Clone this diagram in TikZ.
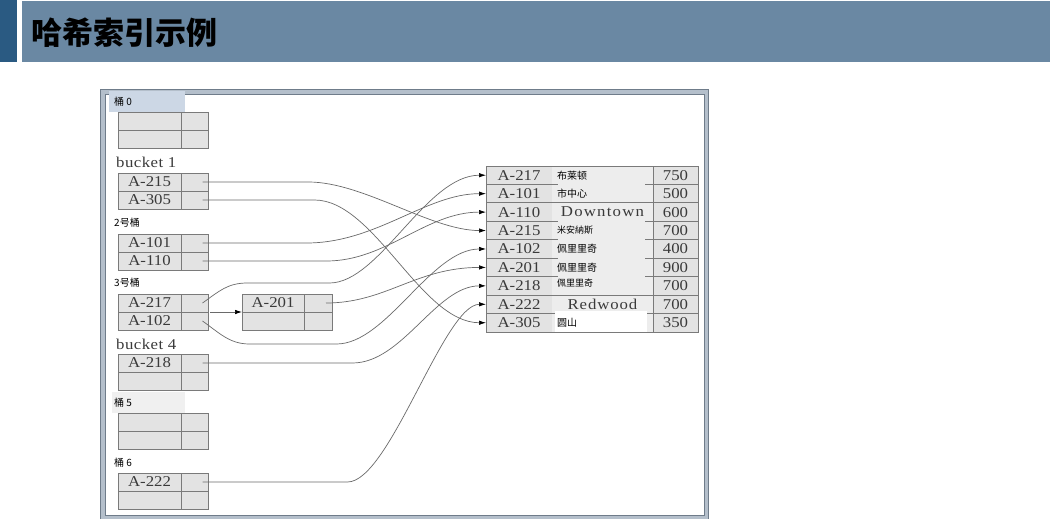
\documentclass[tikz,border=0pt]{standalone}
\usepackage{fontspec}
\setmainfont{Liberation Serif}
\newfontfamily\cjk{Noto Sans CJK SC}
\newfontfamily\tser[FakeStretch=1.12]{Liberation Serif}
\usetikzlibrary{arrows.meta,calc}
\definecolor{hdrdark}{HTML}{2A5A82}
\definecolor{hdrbar}{HTML}{6A88A3}
\definecolor{frmfill}{HTML}{B4BFCB}
\definecolor{frmline}{HTML}{6F7C8A}
\definecolor{cellfill}{HTML}{E3E3E3}
\definecolor{midfill}{HTML}{EDEDED}
\definecolor{cellline}{HTML}{7A7A7A}
\definecolor{linkc}{HTML}{6A6A6A}
\definecolor{txtc}{HTML}{3A3A3A}
\definecolor{lblblue}{HTML}{CCD7E5}
\definecolor{lblgrey}{HTML}{F0F0F0}
\newcommand\bucketbox[4]{%
  \node[keycell] (#1ka) at (118,#2) {#3};
  \node[ptrcell] (#1pa) at (181,#2) {};
  \node[keycell] (#1kb) at (118,{#2+18}) {#4};
  \node[ptrcell] (#1pb) at (181,{#2+18}) {};
}
\newcommand\tablerow[4]{% name, y, key, number
  \node[tkey] (#1k) at (486,#2) {#3};
  \node[tmid] (#1m) at (552,#2) {};
  \node[tnum] (#1n) at (653,#2) {#4};
  \draw[cellline,line width=0.8pt] (#1m.north west) -- ++(6,0) (#1m.north east) -- ++(-8,0);
}
\begin{document}
\begin{tikzpicture}[x=1pt,y=-1pt,
  cellbox/.style={draw=cellline,fill=cellfill,line width=0.8pt,inner sep=0pt,outer sep=0pt,
    anchor=north west,minimum height=18pt,text=txtc,font=\tser\fontsize{15}{15}\selectfont},
  keycell/.style={cellbox,minimum width=63pt},
  ptrcell/.style={cellbox,minimum width=27pt},
  tkey/.style={cellbox,minimum width=66pt,minimum height=18.44pt},
  tmid/.style={cellbox,draw=none,fill=midfill,minimum width=101pt,minimum height=18.44pt},
  tnum/.style={cellbox,minimum width=45pt,minimum height=18.44pt},
  cjklbl/.style={anchor=west,inner sep=0pt,text=black,font=\cjk\fontsize{10}{10}\selectfont},
  enlbl/.style={anchor=base west,inner sep=0pt,text=txtc,font=\tser\fontsize{15}{15}\selectfont\addfontfeature{LetterSpace=3}},
  midcjk/.style={anchor=west,inner sep=0pt,xshift=5pt,text=black,font=\cjk\fontsize{10}{10}\selectfont},
  link/.style={draw=linkc,line width=0.7pt,-{Latex[length=7pt,width=4.5pt,black]}},
]
\useasboundingbox (0,0) rectangle (1050,519);
% header
\fill[hdrdark] (0,0) rectangle (17,62);
\fill[hdrbar] (22,1) rectangle (1050,62);
\node[anchor=west,inner sep=0pt,font=\cjk\bfseries\fontsize{31}{31}\selectfont] (title) at (31,33) {哈希索引示例};
% frame
\fill[frmfill] (100,89) rectangle (709,525);
\draw[frmline,line width=1pt] (100.5,89.5) rectangle (708.5,525);
\fill[white] (105,94) rectangle (704,515);
\draw[frmline,line width=0.8pt] (105,94) rectangle (704,515);
\fill[lblblue] (109,91) rectangle (185,112);
\fill[lblgrey] (112,392) rectangle (185,413);
% labels
\node[cjklbl] (l0) at (114,102) {桶 0};
\node[enlbl] (l1) at (116,167) {bucket 1};
\node[cjklbl] (l2) at (114,223) {2号桶};
\node[cjklbl] (l3) at (114,283) {3号桶};
\node[enlbl] (l4) at (116,349) {bucket 4};
\node[cjklbl] (l5) at (114,403) {桶 5};
\node[cjklbl] (l6) at (114,463) {桶 6};
% buckets
\bucketbox{b0}{112}{}{}
\bucketbox{b1}{173}{A-215}{A-305}
\bucketbox{b2}{234}{A-101}{A-110}
\bucketbox{b3}{294}{A-217}{A-102}
\bucketbox{b4}{354}{A-218}{}
\bucketbox{b5}{413}{}{}
\bucketbox{b6}{473}{A-222}{}
% overflow bucket
\node[cellbox,minimum width=62pt] (cka) at (242,294) {A-201};
\node[cellbox,minimum width=28pt] (cpa) at (304,294) {};
\node[cellbox,minimum width=62pt] (ckb) at (242,312) {};
\node[cellbox,minimum width=28pt] (cpb) at (304,312) {};
% table
\tablerow{r1}{166}{A-217}{750}
\node[midcjk] (r1x) at (r1m.west) {布莱顿};
\tablerow{r2}{184.44}{A-101}{500}
\node[midcjk] (r2x) at (r2m.west) {市中心};
\tablerow{r3}{202.88}{A-110}{600}
\node[anchor=center,inner sep=0pt,text=txtc,font=\tser\fontsize{15}{15}\selectfont\addfontfeature{LetterSpace=8}] (r3x) at (r3m.center) {Downtown};
\tablerow{r4}{221.32}{A-215}{700}
\node[midcjk,font=\cjk\fontsize{9}{9}\selectfont] (r4x) at (r4m.west) {米安納斯};
\tablerow{r5}{239.76}{A-102}{400}
\node[midcjk] (r5x) at (r5m.west) {佩里里奇};
\tablerow{r6}{258.2}{A-201}{900}
\node[midcjk] (r6x) at (r6m.west) {佩里里奇};
\tablerow{r7}{276.64}{A-218}{700}
\node[midcjk,yshift=3pt,font=\cjk\fontsize{9}{9}\selectfont] (r7x) at (r7m.west) {佩里里奇};
\tablerow{r8}{295.08}{A-222}{700}
\node[anchor=center,inner sep=0pt,text=txtc,font=\tser\fontsize{15}{15}\selectfont\addfontfeature{LetterSpace=6}] (r8x) at (r8m.center) {Redwood};
\tablerow{r9}{313.52}{A-305}{350}
\draw[cellline,line width=0.8pt] (r1m.north west) -- (r1m.north east)
  (r3m.north west) -- (r3m.north east) (r8m.north west) -- (r8m.north east)
  (r9m.south west) -- (r9m.south east);
\fill[white] (555,311) rectangle (647,331.5);
\node[midcjk] (r9x) at (r9m.west) {圆山};
% connectors
\draw[link] ([xshift=8pt]b1pa.center) -- ++(106,0) .. controls +(55,0) and +(-55,0) .. (r4k.west);
\draw[link] ([xshift=8pt]b1pb.center) -- ++(112,0) .. controls +(60,0) and +(-65,0) .. (r9k.west);
\draw[link] ([xshift=8pt]b2pa.center) -- ++(104,0) .. controls +(70,0) and +(-60,0) .. (r2k.west);
\draw[link] ([xshift=8pt]b2pb.center) -- ++(124,0) .. controls +(60,0) and +(-60,0) .. (r3k.west);
\draw[link] ([xshift=8pt]b3pa.center) .. controls +(17,-12) and +(-20,0) .. ++(45,-20) -- ++(82,0) .. controls +(50,0) and +(-60,0) .. (r1k.west);
\draw[link] ([xshift=8pt]b3pb.center) .. controls +(17,12) and +(-20,0) .. ++(47,23) -- ++(87,0) .. controls +(50,0) and +(-55,0) .. (r5k.west);
\draw[link] ([xshift=8pt]cpa.center) .. controls +(60,0) and +(-70,0) .. (r6k.west);
\draw[link] ([xshift=8pt]b4pa.center) -- ++(150,0) .. controls +(50,0) and +(-50,0) .. (r7k.west);
\draw[link] ([xshift=8pt]b6pa.center) -- ++(145,0) .. controls +(42,0) and +(-42,0) .. (r8k.west);
\draw[link] ([xshift=2pt]b3pa.south east) -- (cka.south west);
\end{tikzpicture}
\end{document}
